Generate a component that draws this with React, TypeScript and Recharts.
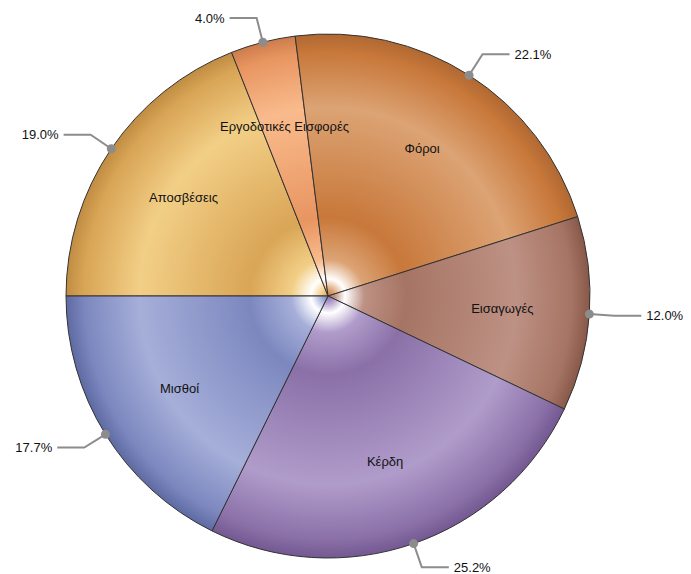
import { PieChart, Pie, Cell } from 'recharts';

const names = ['Αποσβέσεις', 'Εργοδοτικές Εισφορές', 'Φόροι', 'Εισαγωγές', 'Κέρδη', 'Μισθοί'];
const shares = [19.0, 4.0, 22.1, 12.0, 25.2, 17.7];

// [deep, light, rim] tones per slice
const tones = [
  ['#d9a556', '#f2cf86', '#c08c42'],
  ['#e89560', '#f9bb8c', '#cc7c4c'],
  ['#c8783a', '#dca374', '#b06832'],
  ['#a67464', '#bd9184', '#875848'],
  ['#8a70a7', '#b09ccb', '#735891'],
  ['#7c87bf', '#a6afd9', '#5e6aa2'],
];

const W = 691;
const H = 574;
const CX = 328;
const CY = 296;
const R = 262;
const RAD = Math.PI / 180;

const data = names.map((name, i) => ({ name, value: shares[i] }));

function renderLabel(props: any) {
  const { cx, cy, midAngle, outerRadius, name, value } = props;
  const cos = Math.cos(-midAngle * RAD);
  const sin = Math.sin(-midAngle * RAD);
  const ir = outerRadius * 0.667;
  const ix = cx + ir * cos;
  const iy = cy + ir * sin;
  const dx = cx + outerRadius * cos;
  const dy = cy + outerRadius * sin;
  const ex = cx + (outerRadius + 25) * cos;
  const ey = cy + (outerRadius + 25) * sin;
  const right = cos >= 0;
  const hx = ex + (right ? 27 : -27);
  return (
    <g>
      <text
        x={ix}
        y={iy}
        textAnchor="middle"
        dominantBaseline="central"
        fontSize={13}
        fill="#111"
        fontFamily="'Liberation Sans', Arial, sans-serif"
      >
        {name}
      </text>
      <polyline
        points={`${dx},${dy} ${ex},${ey} ${hx},${ey}`}
        fill="none"
        stroke="#8c8c8c"
        strokeWidth={2}
      />
      <circle cx={dx} cy={dy} r={4.5} fill="#8c8c8c" />
      <text
        x={hx + (right ? 5 : -5)}
        y={ey}
        textAnchor={right ? 'start' : 'end'}
        dominantBaseline="central"
        fontSize={13}
        fill="#111"
        fontFamily="'Liberation Sans', Arial, sans-serif"
      >
        {`${value.toFixed(1)}%`}
      </text>
    </g>
  );
}

export default function App() {
  return (
    <div style={{ position: 'absolute', left: 0, top: 0, background: '#fff' }}>
      <PieChart width={W} height={H} margin={{ top: 0, right: 0, bottom: 0, left: 0 }}>
        <defs>
          {tones.map(([deep, light, rim], i) => (
            <radialGradient
              key={`g${i}`}
              id={`g${i}`}
              gradientUnits="userSpaceOnUse"
              cx={CX}
              cy={CY}
              r={R}
            >
              <stop offset="0" stopColor={deep} />
              <stop offset="0.025" stopColor={light} />
              <stop offset="0.065" stopColor="#ffffff" />
              <stop offset="0.14" stopColor={light} />
              <stop offset="0.3" stopColor={deep} />
              <stop offset="0.72" stopColor={light} />
              <stop offset="0.93" stopColor={deep} />
              <stop offset="1" stopColor={rim} />
            </radialGradient>
          ))}
        </defs>
        <Pie
          data={data}
          dataKey="value"
          cx={CX}
          cy={CY}
          outerRadius={R}
          startAngle={180}
          endAngle={-180}
          stroke="#333"
          strokeWidth={1}
          labelLine={false}
          label={renderLabel}
          isAnimationActive={false}
        >
          {data.map((_, i) => (
            <Cell key={`c${i}`} fill={`url(#g${i})`} />
          ))}
        </Pie>
      </PieChart>
    </div>
  );
}
